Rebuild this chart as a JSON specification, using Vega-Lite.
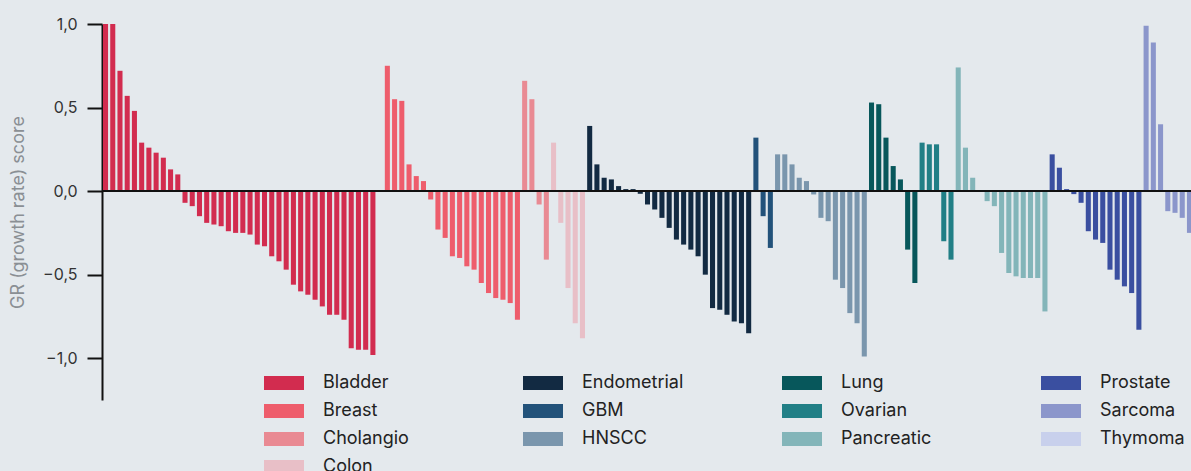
{
  "$schema": "https://vega.github.io/schema/vega-lite/v6.json",
  "autosize": "none",
  "width": 1089,
  "height": 376,
  "padding": {"left": 103, "top": 24, "right": 0, "bottom": 71},
  "background": "#e4e9ed",
  "config": {
    "view": {"stroke": null},
    "font": "Inter"
  },
  "datasets": {
    "gr": [
      {"s":"s001","t":"Bladder","v":1.0},{"s":"s002","t":"Bladder","v":1.0},{"s":"s003","t":"Bladder","v":0.72},{"s":"s004","t":"Bladder","v":0.57},{"s":"s005","t":"Bladder","v":0.48},{"s":"s006","t":"Bladder","v":0.29},{"s":"s007","t":"Bladder","v":0.26},{"s":"s008","t":"Bladder","v":0.23},{"s":"s009","t":"Bladder","v":0.2},{"s":"s010","t":"Bladder","v":0.13},{"s":"s011","t":"Bladder","v":0.1},{"s":"s012","t":"Bladder","v":-0.07},{"s":"s013","t":"Bladder","v":-0.09},{"s":"s014","t":"Bladder","v":-0.15},{"s":"s015","t":"Bladder","v":-0.19},{"s":"s016","t":"Bladder","v":-0.2},{"s":"s017","t":"Bladder","v":-0.21},{"s":"s018","t":"Bladder","v":-0.24},{"s":"s019","t":"Bladder","v":-0.25},{"s":"s020","t":"Bladder","v":-0.25},{"s":"s021","t":"Bladder","v":-0.26},{"s":"s022","t":"Bladder","v":-0.32},{"s":"s023","t":"Bladder","v":-0.33},{"s":"s024","t":"Bladder","v":-0.39},{"s":"s025","t":"Bladder","v":-0.42},{"s":"s026","t":"Bladder","v":-0.47},{"s":"s027","t":"Bladder","v":-0.56},{"s":"s028","t":"Bladder","v":-0.6},{"s":"s029","t":"Bladder","v":-0.62},{"s":"s030","t":"Bladder","v":-0.65},{"s":"s031","t":"Bladder","v":-0.69},{"s":"s032","t":"Bladder","v":-0.74},{"s":"s033","t":"Bladder","v":-0.74},{"s":"s034","t":"Bladder","v":-0.77},{"s":"s035","t":"Bladder","v":-0.94},{"s":"s036","t":"Bladder","v":-0.95},{"s":"s037","t":"Bladder","v":-0.95},{"s":"s038","t":"Bladder","v":-0.98},
      {"s":"s039","t":"Bladder","v":0},
      {"s":"s040","t":"Breast","v":0.75},{"s":"s041","t":"Breast","v":0.55},{"s":"s042","t":"Breast","v":0.54},{"s":"s043","t":"Breast","v":0.16},{"s":"s044","t":"Breast","v":0.09},{"s":"s045","t":"Breast","v":0.06},{"s":"s046","t":"Breast","v":-0.05},{"s":"s047","t":"Breast","v":-0.23},{"s":"s048","t":"Breast","v":-0.28},{"s":"s049","t":"Breast","v":-0.39},{"s":"s050","t":"Breast","v":-0.4},{"s":"s051","t":"Breast","v":-0.45},{"s":"s052","t":"Breast","v":-0.47},{"s":"s053","t":"Breast","v":-0.55},{"s":"s054","t":"Breast","v":-0.61},{"s":"s055","t":"Breast","v":-0.64},{"s":"s056","t":"Breast","v":-0.65},{"s":"s057","t":"Breast","v":-0.67},{"s":"s058","t":"Breast","v":-0.77},
      {"s":"s059","t":"Cholangio","v":0.66},{"s":"s060","t":"Cholangio","v":0.55},{"s":"s061","t":"Cholangio","v":-0.08},{"s":"s062","t":"Cholangio","v":-0.41},
      {"s":"s063","t":"Colon","v":0.29},{"s":"s064","t":"Colon","v":-0.19},{"s":"s065","t":"Colon","v":-0.58},{"s":"s066","t":"Colon","v":-0.79},{"s":"s067","t":"Colon","v":-0.88},
      {"s":"s068","t":"Endometrial","v":0.39},{"s":"s069","t":"Endometrial","v":0.16},{"s":"s070","t":"Endometrial","v":0.08},{"s":"s071","t":"Endometrial","v":0.07},{"s":"s072","t":"Endometrial","v":0.03},{"s":"s073","t":"Endometrial","v":0.012},{"s":"s074","t":"Endometrial","v":0.012},{"s":"s075","t":"Endometrial","v":-0.016},{"s":"s076","t":"Endometrial","v":-0.08},{"s":"s077","t":"Endometrial","v":-0.11},{"s":"s078","t":"Endometrial","v":-0.16},{"s":"s079","t":"Endometrial","v":-0.22},{"s":"s080","t":"Endometrial","v":-0.29},{"s":"s081","t":"Endometrial","v":-0.32},{"s":"s082","t":"Endometrial","v":-0.35},{"s":"s083","t":"Endometrial","v":-0.39},{"s":"s084","t":"Endometrial","v":-0.5},{"s":"s085","t":"Endometrial","v":-0.7},{"s":"s086","t":"Endometrial","v":-0.71},{"s":"s087","t":"Endometrial","v":-0.74},{"s":"s088","t":"Endometrial","v":-0.78},{"s":"s089","t":"Endometrial","v":-0.79},{"s":"s090","t":"Endometrial","v":-0.85},
      {"s":"s091","t":"GBM","v":0.32},{"s":"s092","t":"GBM","v":-0.15},{"s":"s093","t":"GBM","v":-0.34},
      {"s":"s094","t":"HNSCC","v":0.22},{"s":"s095","t":"HNSCC","v":0.22},{"s":"s096","t":"HNSCC","v":0.16},{"s":"s097","t":"HNSCC","v":0.08},{"s":"s098","t":"HNSCC","v":0.06},{"s":"s099","t":"HNSCC","v":-0.02},{"s":"s100","t":"HNSCC","v":-0.16},{"s":"s101","t":"HNSCC","v":-0.18},{"s":"s102","t":"HNSCC","v":-0.53},{"s":"s103","t":"HNSCC","v":-0.58},{"s":"s104","t":"HNSCC","v":-0.73},{"s":"s105","t":"HNSCC","v":-0.79},{"s":"s106","t":"HNSCC","v":-0.99},
      {"s":"s107","t":"Lung","v":0.53},{"s":"s108","t":"Lung","v":0.52},{"s":"s109","t":"Lung","v":0.32},{"s":"s110","t":"Lung","v":0.15},{"s":"s111","t":"Lung","v":0.07},{"s":"s112","t":"Lung","v":-0.35},{"s":"s113","t":"Lung","v":-0.55},
      {"s":"s114","t":"Ovarian","v":0.29},{"s":"s115","t":"Ovarian","v":0.28},{"s":"s116","t":"Ovarian","v":0.28},{"s":"s117","t":"Ovarian","v":-0.3},{"s":"s118","t":"Ovarian","v":-0.41},
      {"s":"s119","t":"Pancreatic","v":0.74},{"s":"s120","t":"Pancreatic","v":0.26},{"s":"s121","t":"Pancreatic","v":0.08},{"s":"s122","t":"Pancreatic","v":0},{"s":"s123","t":"Pancreatic","v":-0.06},{"s":"s124","t":"Pancreatic","v":-0.09},{"s":"s125","t":"Pancreatic","v":-0.37},{"s":"s126","t":"Pancreatic","v":-0.49},{"s":"s127","t":"Pancreatic","v":-0.51},{"s":"s128","t":"Pancreatic","v":-0.52},{"s":"s129","t":"Pancreatic","v":-0.52},{"s":"s130","t":"Pancreatic","v":-0.52},{"s":"s131","t":"Pancreatic","v":-0.72},
      {"s":"s132","t":"Prostate","v":0.22},{"s":"s133","t":"Prostate","v":0.14},{"s":"s134","t":"Prostate","v":0.012},{"s":"s135","t":"Prostate","v":-0.018},{"s":"s136","t":"Prostate","v":-0.07},{"s":"s137","t":"Prostate","v":-0.24},{"s":"s138","t":"Prostate","v":-0.29},{"s":"s139","t":"Prostate","v":-0.31},{"s":"s140","t":"Prostate","v":-0.47},{"s":"s141","t":"Prostate","v":-0.53},{"s":"s142","t":"Prostate","v":-0.57},{"s":"s143","t":"Prostate","v":-0.61},{"s":"s144","t":"Prostate","v":-0.83},
      {"s":"s145","t":"Sarcoma","v":0.99},{"s":"s146","t":"Sarcoma","v":0.89},{"s":"s147","t":"Sarcoma","v":0.4},{"s":"s148","t":"Sarcoma","v":-0.12},{"s":"s149","t":"Sarcoma","v":-0.13},{"s":"s150","t":"Sarcoma","v":-0.16},{"s":"s151","t":"Sarcoma","v":-0.25}
    ]
  },
  "data": {"name": "gr"},
  "layer": [
    {
      "mark": {"type": "bar", "clip": true},
      "encoding": {
        "x": {"field": "s", "type": "ordinal", "axis": null, "scale": {"paddingInner": 0.3, "paddingOuter": 0}},
        "y": {
          "field": "v", "type": "quantitative",
          "scale": {"domain": [-1.25, 1], "nice": false, "zero": false},
          "axis": {
            "title": "GR (growth rate) score",
            "values": [-1, -0.5, 0, 0.5, 1],
            "labelExpr": "replace(format(datum.value, '.1f'), '.', ',')",
            "grid": false,
            "offset": 1,
            "domainColor": "#111111", "domainWidth": 2,
            "tickColor": "#111111", "tickWidth": 2, "tickSize": 15,
            "labelFontSize": 16, "labelColor": "#333333", "labelPadding": 10, "labelFont": "Inter",
            "titleFontSize": 18, "titleColor": "#8a8f94", "titleFontWeight": "normal", "titlePadding": 15, "titleFont": "Inter"
          }
        },
        "color": {
          "field": "t", "type": "nominal",
          "sort": null,
          "scale": {
            "domain": ["Bladder","Endometrial","Lung","Prostate","Breast","GBM","Ovarian","Sarcoma","Cholangio","HNSCC","Pancreatic","Thymoma","Colon"],
            "range": ["#d22c4f","#122a42","#07575b","#3a4fa0","#ee5d6c","#22527a","#217f86","#8b96cb","#e98a93","#7a96ad","#83b5b9","#c8d0ec","#e8bfc7"]
          },
          "legend": {
            "title": null,
            "values": ["Bladder","Endometrial","Lung","Prostate","Breast","GBM","Ovarian","Sarcoma","Cholangio","HNSCC","Pancreatic","Thymoma","Colon"],
            "orient": "none",
            "direction": "horizontal",
            "legendX": 171,
            "legendY": 349,
            "columns": 4,
            "gridAlign": "all",
            "columnPadding": 98,
            "rowPadding": 9,
            "padding": 0,
            "symbolType": "M-2,-0.7H2V0.7H-2Z",
            "symbolSize": 400,
            "symbolStrokeWidth": 0,
            "symbolOpacity": 1,
            "labelFontSize": 18,
            "labelFont": "Inter",
            "labelColor": "#222222",
            "labelOffset": 29
          }
        }
      }
    },
    {
      "mark": {"type": "rule", "color": "#111111", "strokeWidth": 2},
      "encoding": {"y": {"datum": 0}}
    }
  ]
}
